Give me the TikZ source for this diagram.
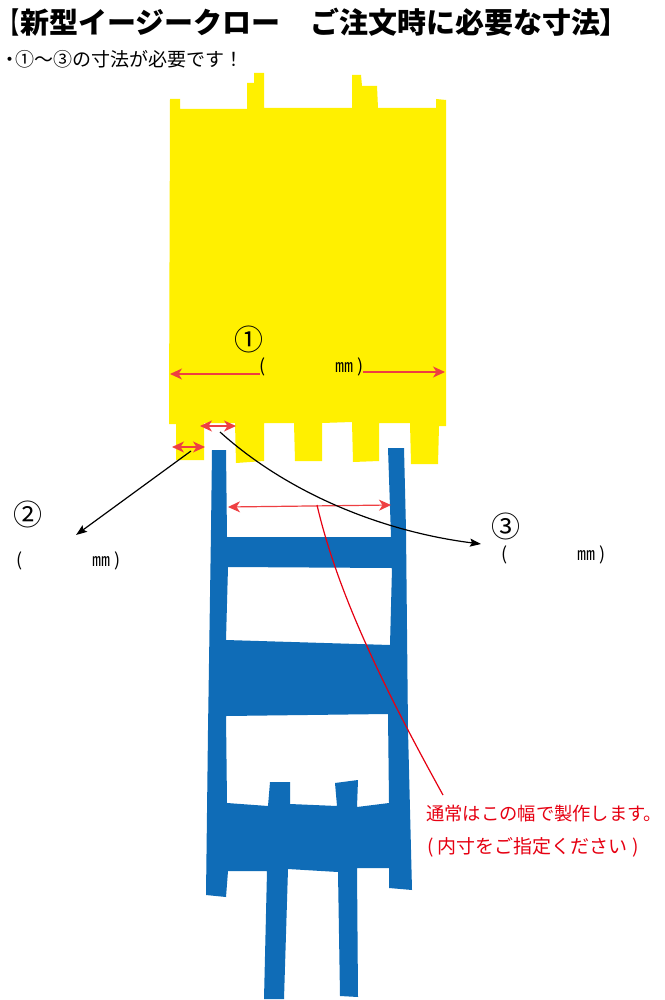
\documentclass[tikz,border=0pt]{standalone}
\usepackage{fontspec}
\setmainfont{Noto Sans CJK JP}
\newfontfamily\bracketfont[FakeStretch=0.65]{Noto Sans CJK JP}
\usetikzlibrary{arrows.meta}
\definecolor{clawyellow}{HTML}{FFF000}
\definecolor{clawblue}{HTML}{0F6CB7}
\definecolor{dimred}{HTML}{EE3F42}
\definecolor{notered}{HTML}{E60012}
\newcommand{\tightglyph}[1]{{\addfontfeature{RawFeature=+palt}#1}}
\tikzset{
  dimline/.style={draw=dimred,line width=1.2pt,{Stealth[length=12pt,width=11pt,inset=3.5pt]}-{Stealth[length=12pt,width=11pt,inset=3.5pt]}},
  dimhalf/.style={draw=dimred,line width=1.2pt,-{Stealth[length=12pt,width=11pt,inset=3.5pt]}},
  leadline/.style={draw=black,line width=1.2pt,-{Stealth[length=11pt,width=8pt,inset=2pt]}},
  notetext/.style={inner sep=0pt,anchor=west,text=notered,font=\fontsize{19}{19}\selectfont},
  mmtext/.style={inner sep=0pt,anchor=west,font=\fontsize{18}{18}\selectfont},
  numtext/.style={inner sep=0pt,font=\fontsize{29}{29}\selectfont},
}
\begin{document}
\begin{tikzpicture}[x=1pt,y=-1pt]  % ------ pixel coordinates, y downwards ------
    \useasboundingbox (0,0) rectangle (664,1000);
    \fill[white] (0,0) rectangle (664,1000);
    % yellow part
    \fill[clawyellow] (170,99) -- (180,99) -- (180,109) -- (247,109) -- (247,83) -- (254,83) -- (254,73) -- (264,73)
      -- (264,108) -- (352,108) -- (352,75) -- (361,75) -- (362,86) -- (377,86) -- (378,108) -- (436,108) -- (436,99)
      -- (446,100) -- (446,426) -- (439,426) -- (438,464) -- (411,464) -- (410,423) -- (379,423) -- (379,461)
      -- (353,462) -- (352,422) -- (322,423) -- (322,461) -- (295,461) -- (294,423) -- (264,423) -- (264,461)
      -- (236,463) -- (235,423) -- (204,423) -- (204,460) -- (176,460) -- (176,424) -- (169,424) -- cycle;
    % blue part
    \fill[clawblue,even odd rule] (212,450) -- (226,450) -- (227,537) -- (391,537) -- (388,448) -- (404,448)
      -- (406,530) -- (408,730) -- (412,890) -- (389,888) -- (389,868) -- (357,868) -- (358,997) -- (340,996)
      -- (338,872) -- (288,869) -- (284,999) -- (264,999) -- (267,871) -- (228,871) -- (226,897) -- (206,895)
      -- (208,730) -- (211,530) -- cycle
      (228,567) -- (392,568) -- (390,645) -- (226,640) -- cycle
      (226,716) -- (388,714) -- (389,803) -- (357,807) -- (358,780) -- (335,783) -- (337,806) -- (290,804)
      -- (290,782) -- (270,782) -- (268,806) -- (227,803) -- cycle;
    % title
    \node[inner sep=0pt,anchor=west,font=\fontsize{29}{29}\selectfont\bfseries] (title) at (0,22) {{\bracketfont 【}\hspace{1pt}新型イージークロー\hspace{30pt}ご注文時に必要な寸法\tightglyph{】}};
    \node[inner sep=0pt,anchor=west,font=\fontsize{19}{19}\selectfont] (need) at (0,59) {・\hspace{-4pt}①～③の寸法が必要です！};
    % dimension 1
    \node[numtext] (num1) at (249,339) {①};
    \node[mmtext] (mm1) at (259,367) {(\hspace{70pt}㎜\hspace{4pt})};
    \coordinate (a1) at (260,374); \coordinate (a2) at (170,374);
    \coordinate (a3) at (363,372); \coordinate (a4) at (445,372);
    \draw[dimhalf] (a1) -- (a2);
    \draw[dimhalf] (a3) -- (a4);
    % dimensions 2, 3 and inner width
    \coordinate (b1) at (172,447); \coordinate (b2) at (205,447);
    \coordinate (c1) at (200,426); \coordinate (c2) at (236,426);
    \coordinate (d1) at (228,507); \coordinate (d2) at (391,505);
    \draw[dimline] (b1) -- (b2);
    \draw[dimline] (c1) -- (c2);
    \draw[dimline] (d1) -- (d2);
    % leaders
    \node[numtext] (num2) at (28,514) {②};
    \node[mmtext] (mm2) at (16,561) {(\hspace{70pt}㎜\hspace{4pt})};
    \node[numtext] (num3) at (506,526) {③};
    \node[mmtext] (mm3) at (501,555) {(\hspace{70pt}㎜\hspace{4pt})};
    \coordinate (e1) at (191,451); \coordinate (e2) at (76,535);
    \coordinate (f1) at (220,432); \coordinate (f2) at (481,544);
    \draw[leadline] (e1) -- (e2);
    \draw[leadline] (f1) .. controls (290,495) and (385,532) .. (f2);
    % note
    \coordinate (g1) at (317,505); \coordinate (g2) at (443,795);
    \draw[notered,line width=1.2pt] (g1) .. controls (338,595) and (385,690) .. (g2);
    \node[notetext,font=\fontsize{18.3}{18.3}\selectfont] (note1) at (426,814) {通常はこの幅で製作します。};
    \node[notetext] (note2) at (427,847) {( 内寸をご指定ください )};
\end{tikzpicture}
\end{document}
